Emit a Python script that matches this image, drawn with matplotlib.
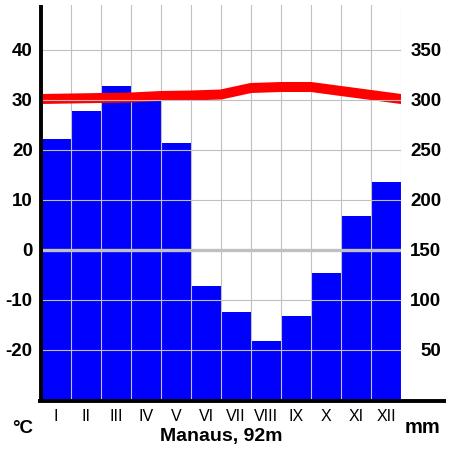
import matplotlib
matplotlib.use('Agg')
import matplotlib.pyplot as plt
import numpy as np

months = ['I', 'II', 'III', 'IV', 'V', 'VI', 'VII', 'VIII', 'IX', 'X', 'XI', 'XII']
precip_mm = [261, 289, 314, 303, 257, 114, 88, 59, 84, 127, 184, 218]
temp_c = [30.2, 30.3, 30.4, 30.5, 30.8, 30.9, 31.1, 32.4, 32.6, 32.6, 31.8, 31.0]
temp_ticks = [-20, -10, 0, 10, 20, 30, 40]
precip_ticks = [50, 100, 150, 200, 250, 300, 350]
station = 'Manaus, 92m'

plt.rcParams['font.family'] = ['Liberation Sans', 'DejaVu Sans']

fig = plt.figure(figsize=(4.5, 4.5), dpi=100)
ax = fig.add_axes([41 / 450, 50 / 450, 360 / 450, 395 / 450])
ax_t = ax.twinx()

# precipitation bars (mm axis, labels on the right)
x = np.arange(12)
ax.bar(x + 0.5, precip_mm, width=1.0, color='#0000ff', linewidth=0, zorder=1)
ax.set_xlim(0, 12)
ax.set_ylim(0, 395)
for v in range(1, 13):
    ax.axvline(v, color='#c0c0c0', linewidth=0.8, zorder=2)

ax.yaxis.tick_right()
ax.set_yticks(precip_ticks)
ax.set_yticklabels([str(t) for t in precip_ticks], fontsize=13.5, fontweight='bold', ha='right')
ax.tick_params(axis='y', length=0, pad=29)
ax.set_xticks(x + 0.5)
ax.set_xticklabels(months, fontsize=11.5)
ax.tick_params(axis='x', length=0, pad=6.5)
for s in ax.spines.values():
    s.set_visible(False)

# temperature line (°C axis, labels on the left)
ax_t.set_ylim(-30, 49)
temp_line = temp_c + temp_c[:1]
ax_t.plot(np.arange(13), temp_line, color='#ff0000', linewidth=7.2,
          solid_joinstyle='miter', zorder=3)
for t in temp_ticks:
    if t == 0:
        ax_t.axhline(t, color='#c0c0c0', linewidth=2.4, zorder=4)
    else:
        ax_t.axhline(t, color='#c0c0c0', linewidth=0.8, zorder=4)
ax_t.yaxis.tick_left()
ax_t.set_yticks(temp_ticks)
ax_t.set_yticklabels([str(t) for t in temp_ticks], fontsize=13.5, fontweight='bold')
ax_t.tick_params(axis='y', length=0, pad=6)
for s in ax_t.spines.values():
    s.set_visible(False)

# axis lines
ax_t.plot([0, 0], [-0.005, 1], transform=ax_t.transAxes, color='black',
          linewidth=2.8, clip_on=False, zorder=5, solid_capstyle='butt')
ax_t.plot([-0.008, 1.125], [-0.003, -0.003], transform=ax_t.transAxes, color='black',
          linewidth=2.8, clip_on=False, zorder=5, solid_capstyle='butt')

fig.text(0.05, 17 / 450, '°C', fontsize=13.5, fontweight='bold', ha='center', va='baseline')
fig.text(0.94, 17 / 450, 'mm', fontsize=14.5, fontweight='bold', ha='center', va='baseline')
fig.text(221 / 450, 9 / 450, station, fontsize=14, fontweight='bold', ha='center', va='baseline')

fig.savefig('out.png', dpi=100)
